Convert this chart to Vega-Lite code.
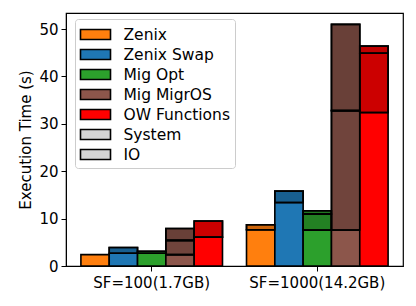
{
  "$schema": "https://vega.github.io/schema/vega-lite/v6.json",
  "width": 337,
  "height": 253,
  "autosize": "none",
  "padding": {"left": 66, "top": 13, "right": 13, "bottom": 40},
  "config": {
    "font": "DejaVu Sans",
    "view": {"stroke": "black", "strokeWidth": 1.2},
    "axis": {
      "grid": false,
      "domainColor": "black",
      "tickColor": "black",
      "labelColor": "black",
      "titleColor": "black",
      "labelFontSize": 15,
      "titleFontSize": 15,
      "titleFontWeight": "normal",
      "tickSize": 5,
      "labelPadding": 3
    }
  },
  "data": {
    "values": [
      {"sf": "SF=100(1.7GB)", "method": "Zenix", "part": "base", "k": 0, "value": 2.4},
      {"sf": "SF=100(1.7GB)", "method": "Zenix Swap", "part": "base", "k": 0, "value": 2.7},
      {"sf": "SF=100(1.7GB)", "method": "Zenix Swap", "part": "IO", "k": 1, "value": 1.2},
      {"sf": "SF=100(1.7GB)", "method": "Mig Opt", "part": "base", "k": 0, "value": 2.7},
      {"sf": "SF=100(1.7GB)", "method": "Mig Opt", "part": "IO", "k": 1, "value": 0.4},
      {"sf": "SF=100(1.7GB)", "method": "Mig MigrOS", "part": "base", "k": 0, "value": 2.4},
      {"sf": "SF=100(1.7GB)", "method": "Mig MigrOS", "part": "IO", "k": 1, "value": 3.0},
      {"sf": "SF=100(1.7GB)", "method": "Mig MigrOS", "part": "System", "k": 2, "value": 2.5},
      {"sf": "SF=100(1.7GB)", "method": "OW Functions", "part": "base", "k": 0, "value": 6.1},
      {"sf": "SF=100(1.7GB)", "method": "OW Functions", "part": "IO", "k": 1, "value": 3.4},
      {"sf": "SF=1000(14.2GB)", "method": "Zenix", "part": "base", "k": 0, "value": 7.65},
      {"sf": "SF=1000(14.2GB)", "method": "Zenix", "part": "IO", "k": 1, "value": 1.05},
      {"sf": "SF=1000(14.2GB)", "method": "Zenix Swap", "part": "base", "k": 0, "value": 13.4},
      {"sf": "SF=1000(14.2GB)", "method": "Zenix Swap", "part": "IO", "k": 1, "value": 2.4},
      {"sf": "SF=1000(14.2GB)", "method": "Mig Opt", "part": "base", "k": 0, "value": 7.6},
      {"sf": "SF=1000(14.2GB)", "method": "Mig Opt", "part": "IO", "k": 1, "value": 3.35},
      {"sf": "SF=1000(14.2GB)", "method": "Mig Opt", "part": "System", "k": 2, "value": 0.7},
      {"sf": "SF=1000(14.2GB)", "method": "Mig MigrOS", "part": "base", "k": 0, "value": 7.6},
      {"sf": "SF=1000(14.2GB)", "method": "Mig MigrOS", "part": "IO", "k": 1, "value": 25.2},
      {"sf": "SF=1000(14.2GB)", "method": "Mig MigrOS", "part": "System", "k": 2, "value": 18.2},
      {"sf": "SF=1000(14.2GB)", "method": "OW Functions", "part": "base", "k": 0, "value": 32.4},
      {"sf": "SF=1000(14.2GB)", "method": "OW Functions", "part": "IO", "k": 1, "value": 12.5},
      {"sf": "SF=1000(14.2GB)", "method": "OW Functions", "part": "System", "k": 2, "value": 1.5}
    ]
  },
  "transform": [
    {"stack": "value", "groupby": ["sf", "method"], "sort": [{"field": "k"}], "as": ["v0", "v1"]}
  ],
  "encoding": {
    "x": {
      "field": "sf",
      "type": "nominal",
      "sort": ["SF=100(1.7GB)", "SF=1000(14.2GB)"],
      "scale": {"paddingInner": 0.145, "paddingOuter": 0.09},
      "axis": {"title": null, "labelAngle": 0, "labelPadding": 4}
    },
    "xOffset": {
      "field": "method",
      "type": "nominal",
      "scale": {"domain": ["Zenix", "Zenix Swap", "Mig Opt", "Mig MigrOS", "OW Functions"], "paddingInner": 0, "paddingOuter": 0}
    },
    "y": {
      "field": "v0",
      "type": "quantitative",
      "scale": {"domain": [0, 53.4], "nice": false},
      "axis": {"title": "Execution Time (s)", "values": [0, 10, 20, 30, 40, 50], "titlePadding": 5}
    },
    "y2": {"field": "v1"}
  },
  "layer": [
    {
      "mark": {"type": "bar", "stroke": "black", "strokeWidth": 1.6, "opacity": 1},
      "encoding": {
        "color": {
          "field": "method",
          "type": "nominal",
          "scale": {
            "domain": ["Zenix", "Zenix Swap", "Mig Opt", "Mig MigrOS", "OW Functions", "System", "IO"],
            "range": ["#ff7f0e", "#1f77b4", "#2ca02c", "#8c564b", "#ff0000", "#d4d4d4", "#d4d4d4"]
          },
          "legend": {
            "title": null,
            "orient": "none",
            "legendX": 9,
            "legendY": 6,
            "direction": "vertical",
            "padding": 4.5,
            "strokeColor": "#cccccc",
            "fillColor": "rgba(255,255,255,0.85)",
            "cornerRadius": 3,
            "symbolType": "M-1,-0.5H2V0.5H-1Z",
            "symbolSize": 400,
            "symbolStrokeColor": "black",
            "symbolStrokeWidth": 1.6,
            "symbolOpacity": 1,
            "labelFontSize": 15.5,
            "labelColor": "black",
            "labelOffset": 22,
            "labelExpr": "datum.label + '   '",
            "rowPadding": -1.4
          }
        }
      }
    },
    {
      "transform": [{"filter": "datum.part !== 'base'"}],
      "mark": {"type": "bar", "fill": "black", "stroke": "black", "strokeWidth": 1.6, "strokeOpacity": 1},
      "encoding": {
        "fillOpacity": {
          "field": "part",
          "type": "nominal",
          "scale": {"domain": ["IO", "System"], "range": [0.2, 0.25]},
          "legend": null
        }
      }
    }
  ]
}
